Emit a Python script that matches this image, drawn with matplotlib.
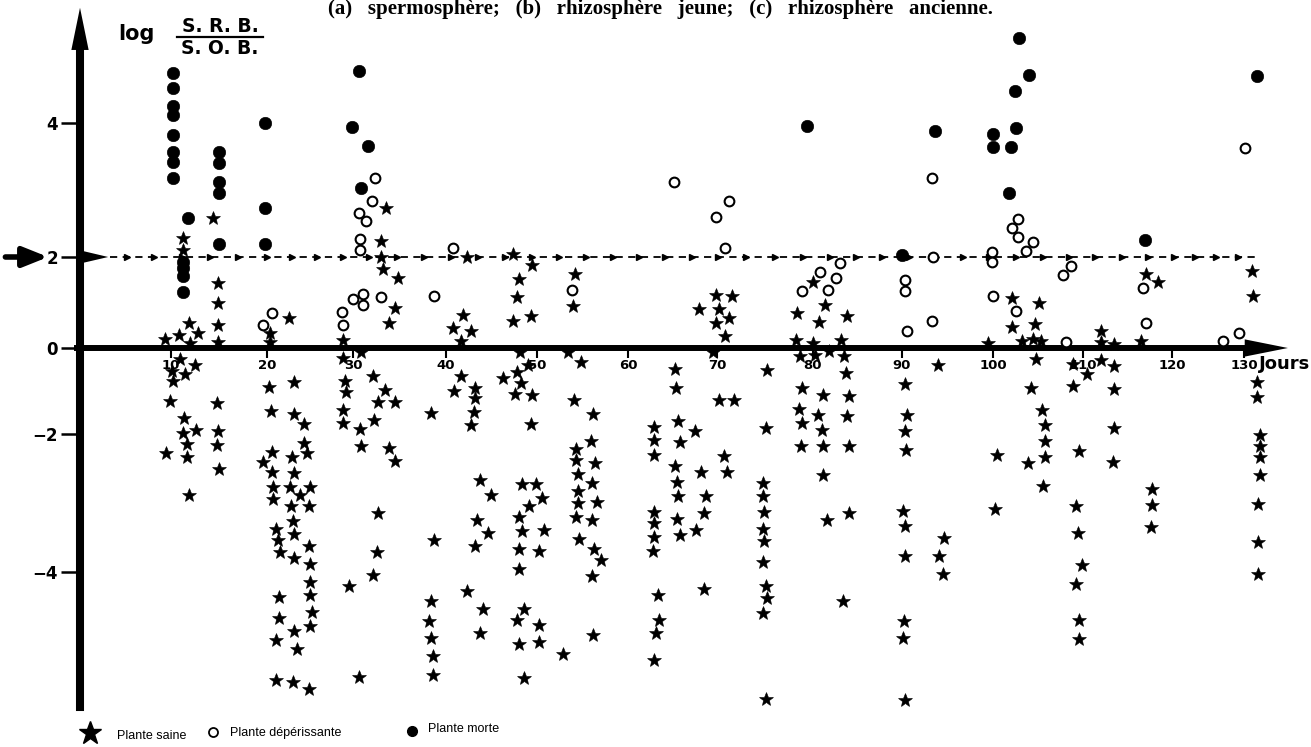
import numpy as np
import matplotlib
matplotlib.use('Agg')
import matplotlib.pyplot as plt
from matplotlib.lines import Line2D

# ---- data (jours, log S.R.B./S.O.B.) ----
# Plante saine (etoiles)
saine_jours = [
    11.2, 11.2, 14.4, 14.9, 14.9, 14.9, 14.9, 9.3, 10.8, 11.9, 12.8, 12.0,
    22.5, 20.4, 20.4,
    33.6, 33.0, 33.0, 33.2, 34.8, 34.5, 33.9, 28.8,
    42.3, 41.9, 40.8, 42.7, 41.7,
    47.4, 49.5, 48.0, 47.8, 49.3, 47.4,
    54.2, 54.0,
    69.9, 71.6, 68.0, 70.2, 69.9, 71.2, 70.8,
    80.0, 81.4, 78.3, 80.7, 83.8, 78.2, 80.0, 83.1, 81.8,
    117.1, 118.4, 131.1, 131.2,
    102.1, 105.1, 102.1, 104.7, 99.5, 103.2, 104.4, 105.3,
    112.0, 112.0, 113.5, 116.5,
    10.9, 12.5, 10.1, 11.5, 10.2, 9.9, 11.4, 11.2, 12.6, 11.7, 9.4, 11.7, 11.9, 14.8, 14.9, 14.8, 15.0,
    20.2, 23.1, 20.5, 23.1, 24.3, 24.3, 24.6, 20.6, 19.6, 20.6, 20.7, 20.7, 22.9, 23.1, 22.7, 23.8,
    25.0, 24.9, 22.8, 23.0, 23.1, 21.1, 21.3, 21.5, 23.1, 24.9, 25.0, 25.0, 25.0, 25.2, 25.0, 21.4,
    21.4, 21.1, 23.1, 23.5, 21.1, 23.0, 24.9,
    28.8, 30.9, 29.1, 29.2, 28.8, 28.8, 32.1, 33.4, 32.7, 34.5, 32.3, 30.8, 30.9, 33.9, 34.5, 32.7,
    32.6, 32.1, 29.5, 30.6,
    38.4, 38.7, 38.4, 38.2, 38.4, 38.6, 38.6,
    41.7, 40.9, 43.2, 43.2, 43.1, 42.7, 43.7, 44.9, 43.4, 44.6, 43.2, 42.3, 44.1, 43.7,
    48.1, 49.0, 46.3, 47.8, 48.2, 47.6, 49.5, 49.3, 48.3, 49.9, 50.5, 49.1, 48.0, 48.4, 50.8, 48.0,
    50.2, 48.0, 48.6, 47.8, 50.2, 48.0, 50.2, 48.6, 52.9,
    53.4, 54.8, 54.1, 56.1, 55.9, 54.3, 54.3, 56.4, 54.5, 56.0, 54.5, 54.5, 56.6, 54.3, 56.0, 54.6,
    56.3, 57.0, 56.0, 56.1,
    69.6, 65.3, 65.4, 70.2, 71.8, 65.6, 67.5, 65.8, 62.9, 62.9, 62.9, 70.7, 71.0, 65.3, 65.5, 65.6,
    68.2, 68.8, 68.5, 62.9, 62.9, 62.9, 62.8, 65.5, 65.8, 67.6, 63.4, 63.5, 63.1, 62.9, 68.5,
    75.2, 75.1, 74.8, 74.8, 74.9, 74.8, 74.9, 74.8, 75.1, 75.2, 74.8, 75.1,
    78.6, 80.2, 83.5, 83.7, 78.9, 81.1, 84.0, 78.5, 80.6, 83.8, 78.9, 81.0, 78.7, 81.1, 84.0, 81.1,
    81.6, 84.0, 83.4,
    94.0, 90.3, 90.5, 90.3, 90.4, 90.1, 90.3, 90.3, 90.2, 90.1, 90.3, 94.6, 94.1, 94.5,
    104.8, 104.2, 105.4, 105.8, 105.8, 105.8, 103.9, 100.4, 100.2, 105.5,
    108.9, 110.4, 108.9, 112.0, 113.5, 113.5, 113.5, 113.4, 109.6, 109.2, 109.4, 109.9, 109.2, 109.5,
    109.6,
    117.8, 117.8, 117.6,
    131.8, 131.8, 132.2, 132.2, 132.2, 132.2, 131.9, 131.9, 131.9,
]
saine_log = [
    2.29, 2.11, 2.58, 1.42, 0.98, 0.51, 0.14, 0.19, 0.29, 0.54, 0.32, 0.10,
    0.65, 0.32, 0.14,
    2.73, 2.24, 2.00, 1.73, 1.53, 0.89, 0.56, 0.18,
    2.00, 0.73, 0.45, 0.37, 0.16,
    2.04, 1.82, 1.51, 1.11, 0.70, 0.60,
    1.63, 0.93,
    1.16, 1.15, 0.86, 0.86, 0.56, 0.67, 0.26,
    1.46, 0.95, 0.77, 0.58, 0.71, 0.18, 0.12, 0.18, -0.07,
    1.63, 1.45, 1.69, 1.14,
    1.09, 0.99, 0.46, 0.52, 0.11, 0.15, 0.19, 0.16,
    0.37, 0.14, 0.08, 0.16,
    -0.26, -0.40, -0.53, -0.61, -0.76, -1.23, -1.62, -1.97, -1.91, -2.14, -2.28, -2.33, -2.88, -1.27, -1.92, -2.16, -2.51,
    -0.90, -0.78, -1.47, -1.53, -1.77, -2.13, -2.28, -2.26, -2.41, -2.55, -2.77, -2.94, -2.34, -2.57, -2.77, -2.89,
    -2.77, -3.04, -3.05, -3.26, -3.45, -3.37, -3.54, -3.71, -3.80, -3.62, -3.89, -4.14, -4.33, -4.58, -4.78, -4.36,
    -4.66, -4.99, -4.85, -5.11, -5.56, -5.59, -5.70,
    -0.24, -0.09, -0.76, -1.02, -1.44, -1.75, -0.65, -0.98, -1.25, -1.26, -1.67, -1.89, -2.18, -2.21, -2.39, -3.15,
    -3.71, -4.04, -4.21, -5.52,
    -1.50, -3.54, -4.42, -4.71, -4.96, -5.22, -5.49,
    -0.65, -0.99, -0.92, -1.17, -1.48, -1.79, -2.66, -2.88, -3.25, -3.44, -3.63, -4.27, -4.54, -4.89,
    -0.09, -0.40, -0.70, -0.55, -0.82, -1.08, -1.09, -1.77, -2.72, -2.72, -2.93, -3.04, -3.20, -3.40, -3.39, -3.67,
    -3.69, -3.95, -4.53, -4.69, -4.77, -5.04, -5.01, -5.53, -5.19,
    -0.10, -0.32, -1.21, -1.53, -2.10, -2.22, -2.38, -2.42, -2.58, -2.71, -2.83, -3.00, -2.98, -3.20, -3.25, -3.52,
    -3.66, -3.83, -4.06, -4.92,
    -0.09, -0.49, -0.92, -1.21, -1.21, -1.70, -1.92, -2.11, -1.84, -2.08, -2.30, -2.32, -2.55, -2.47, -2.69, -2.90,
    -2.55, -2.90, -3.15, -3.13, -3.29, -3.49, -3.69, -3.23, -3.47, -3.39, -4.33, -4.70, -4.89, -5.27, -4.24,
    -0.50, -1.87, -2.71, -2.90, -3.13, -3.37, -3.55, -3.86, -4.20, -4.37, -4.59, -5.84,
    -0.19, -0.16, -0.19, -0.57, -0.93, -1.10, -1.12, -1.43, -1.55, -1.57, -1.74, -1.90, -2.18, -2.18, -2.18, -2.59,
    -3.25, -3.15, -4.42,
    -0.39, -0.84, -1.56, -1.92, -2.23, -3.11, -3.33, -3.77, -4.71, -4.95, -5.86, -3.51, -3.77, -4.03,
    -0.26, -0.94, -1.45, -1.79, -2.10, -2.33, -2.42, -2.31, -3.09, -2.75,
    -0.38, -0.61, -0.88, -0.28, -0.42, -0.96, -1.87, -2.41, -2.25, -3.04, -3.43, -3.90, -4.17, -4.70,
    -4.97,
    -2.79, -3.03, -3.35,
    -0.79, -1.14, -2.02, -2.17, -2.33, -2.60, -3.01, -3.57, -4.03,
]

# Plante deperissante (cercles vides)
deper_jours = [
    19.6, 20.6,
    32.4, 32.0, 30.6, 31.4, 30.8, 30.8,
    28.7, 28.8, 30.0, 31.1, 31.1, 33.0,
    38.7, 40.8, 53.8,
    65.2, 71.2, 69.9, 70.8,
    93.3, 93.4,
    83.0, 80.8, 82.6, 81.7, 78.9,
    90.3, 90.3, 90.5, 93.3,
    130.2,
    102.8, 102.1, 102.8, 104.4, 103.7, 99.9, 99.9,
    108.7, 107.8, 100.0, 102.6,
    116.7, 117.1,
    108.1, 127.1, 129.3,
]
deper_log = [
    0.51, 0.76,
    3.18, 2.84, 2.65, 2.54, 2.27, 2.11,
    0.80, 0.51, 1.07, 1.19, 0.95, 1.11,
    1.14, 2.14, 1.27,
    3.12, 2.84, 2.60, 2.13,
    3.18, 2.00,
    1.86, 1.68, 1.53, 1.28, 1.26,
    1.50, 1.25, 0.37, 0.59,
    3.62,
    2.57, 2.43, 2.30, 2.23, 2.09, 2.08, 1.88,
    1.80, 1.61, 1.14, 0.82,
    1.32, 0.55,
    0.14, 0.15, 0.32,
]

# Plante morte (cercles pleins)
morte_jours = [
    10.2, 10.2, 10.2, 10.2, 10.2, 10.2, 10.2, 10.2,
    11.8, 11.2, 11.2, 11.2, 11.3,
    15.0, 15.0, 15.0, 15.0, 15.0,
    19.8, 19.8, 19.8,
    30.6, 29.9, 31.6, 30.9,
    79.4, 93.6, 90.0,
    102.9, 104.0, 102.4, 102.6, 100.0, 100.0, 102.0, 101.8,
    131.8, 117.0,
]
morte_log = [
    4.75, 4.52, 4.25, 4.12, 3.82, 3.57, 3.42, 3.18,
    2.58, 1.90, 1.75, 1.58, 1.22,
    3.56, 3.41, 3.12, 2.96, 2.20,
    4.00, 2.73, 2.19,
    4.78, 3.94, 3.65, 3.03,
    3.96, 3.88, 2.03,
    5.27, 4.72, 4.48, 3.93, 3.83, 3.64, 3.64, 2.96,
    4.70, 2.26,
]

x_ticks = [10, 20, 30, 40, 50, 60, 70, 80, 90, 100, 110, 120, 130]
y_ticks = [-4, -2, 0, 2, 4]
y_ticklabels = ['\u22124', '\u22122', '0', '2', '4']

# the hand drawn axes are not evenly spaced: where each tick sits (pixels)
x_ref = [0, 10, 20, 30, 40, 50, 60, 70, 80, 90, 100, 110, 120, 130]
x_ref_px = [80, 171, 267, 353, 446, 537, 628, 717, 813, 902, 993, 1083, 1172, 1244]
y_ref = [-4, -2, 0, 2, 4]
y_ref_px = [175, 313, 399, 490, 624]  # from the bottom of the figure

W, H = 1311, 747


def piecewise(v, xp, fp):
    v = np.asarray(v, dtype=float)
    out = np.interp(v, xp, fp)
    s0 = (fp[1] - fp[0]) / (xp[1] - xp[0])
    s1 = (fp[-1] - fp[-2]) / (xp[-1] - xp[-2])
    out = np.where(v < xp[0], fp[0] + (v - xp[0]) * s0, out)
    out = np.where(v > xp[-1], fp[-1] + (v - xp[-1]) * s1, out)
    return out


def fx(v):
    return piecewise(v, x_ref, x_ref_px)


def fx_inv(v):
    return piecewise(v, x_ref_px, x_ref)


def fy(v):
    return piecewise(v, y_ref, y_ref_px)


def fy_inv(v):
    return piecewise(v, y_ref_px, y_ref)


fig = plt.figure(figsize=(W / 100, H / 100), dpi=100)
ax = fig.add_axes([0, 0, 1, 1])
ax.set_xscale('function', functions=(fx, fx_inv))
ax.set_yscale('function', functions=(fy, fy_inv))
ax.set_xlim(float(fx_inv(0)), float(fx_inv(W)))
ax.set_ylim(float(fy_inv(0)), float(fy_inv(H)))
ax.patch.set_visible(False)

# === axes (thick, with arrows) ===
for s in ['top', 'right']:
    ax.spines[s].set_visible(False)
ax.spines['left'].set_position(('data', 0))
ax.spines['left'].set_bounds(-5.95, 5.12)
ax.spines['left'].set_linewidth(5.8)
ax.spines['bottom'].set_position(('data', 0))
ax.spines['bottom'].set_bounds(-0.3, 130.3)
ax.spines['bottom'].set_linewidth(4.3)
ax.fill([-0.95, 0.95, 0], [5.09, 5.09, 5.72], color='black', lw=0)
ax.fill([130.1, 130.1, 136.1], [0.19, -0.20, 0], color='black', lw=0)

ax.set_xticks(x_ticks)
ax.set_xticklabels([str(t) for t in x_ticks], fontsize=9.5, fontweight='bold')
ax.set_yticks(y_ticks)
ax.set_yticklabels(y_ticklabels, fontsize=12, fontweight='bold')
ax.minorticks_off()
ax.tick_params(axis='x', direction='out', length=7, width=1.5, pad=1)
ax.tick_params(axis='y', direction='out', length=14, width=1.8, pad=2)

# === reference line at 2 ===
arrow_pos = np.arange(5.2, 131, 2.95)
ax.plot([3.3, 131.5], [2, 2], color='black', lw=1.3, ls=(0, (4, 3)))
ax.plot(arrow_pos, np.full(len(arrow_pos), 2), ls='none', marker='>', ms=4,
        color='black')
ax.fill([0.3, 0.3, 3.1], [2.09, 1.87, 2.0], color='black', lw=0)
ax.annotate('', xy=(-3.5, 2), xytext=(-8.2, 2),
            arrowprops=dict(arrowstyle='-|>,head_length=0.75,head_width=0.3',
                            lw=4, color='black', mutation_scale=20,
                            shrinkA=0, shrinkB=0))

# === points ===
ax.plot(saine_jours, saine_log, ls='none', marker='*', ms=10.5, color='black',
        mew=0.4, zorder=3)
ax.plot(deper_jours, deper_log, ls='none', marker='o', ms=7, mfc='white',
        mec='black', mew=1.5, zorder=3)
ax.plot(morte_jours, morte_log, ls='none', marker='o', ms=9, color='black',
        mew=0.4, zorder=3)

# === labels ===
fig.text(118 / W, 1 - 40 / H, 'log', fontsize=15, fontweight='bold',
         ha='left', va='baseline')
fig.text(220 / W, 1 - 27 / H, 'S. R. B.', fontsize=13.5, fontweight='bold',
         ha='center', va='center')
fig.add_artist(Line2D([177 / W, 263 / W], [1 - 36.5 / H, 1 - 36.5 / H],
                      color='black', lw=1.6))
fig.text(220 / W, 1 - 48 / H, 'S. O. B.', fontsize=13.5, fontweight='bold',
         ha='center', va='center')
fig.text(1285 / W, 1 - 364 / H, 'Jours', fontsize=13, fontweight='bold',
         ha='center', va='center')

fig.text(660 / W, 1 - 9 / H,
         '(a)   spermosph\u00e8re;   (b)   rhizosph\u00e8re   jeune;   (c)   rhizosph\u00e8re   ancienne.',
         family='Liberation Serif', fontweight='bold', fontsize=15,
         ha='center', va='center')

# === legend ===
fig.add_artist(Line2D([90 / W], [1 - 733 / H], marker='*', ms=17, color='black',
                      ls='none'))
fig.text(117 / W, 1 - 736 / H, 'Plante saine', family='Liberation Sans',
         fontsize=9, ha='left', va='center')
fig.add_artist(Line2D([213 / W], [1 - 732 / H], marker='o', ms=6.5, mfc='white',
                      mec='black', mew=1.3, ls='none'))
fig.text(230 / W, 1 - 733 / H, 'Plante d\u00e9p\u00e9rissante', family='Liberation Sans',
         fontsize=9, ha='left', va='center')
fig.add_artist(Line2D([412 / W], [1 - 731 / H], marker='o', ms=7, color='black',
                      ls='none'))
fig.text(428 / W, 1 - 729 / H, 'Plante morte', family='Liberation Sans',
         fontsize=9, ha='left', va='center')

fig.savefig('out.png', dpi=100)
